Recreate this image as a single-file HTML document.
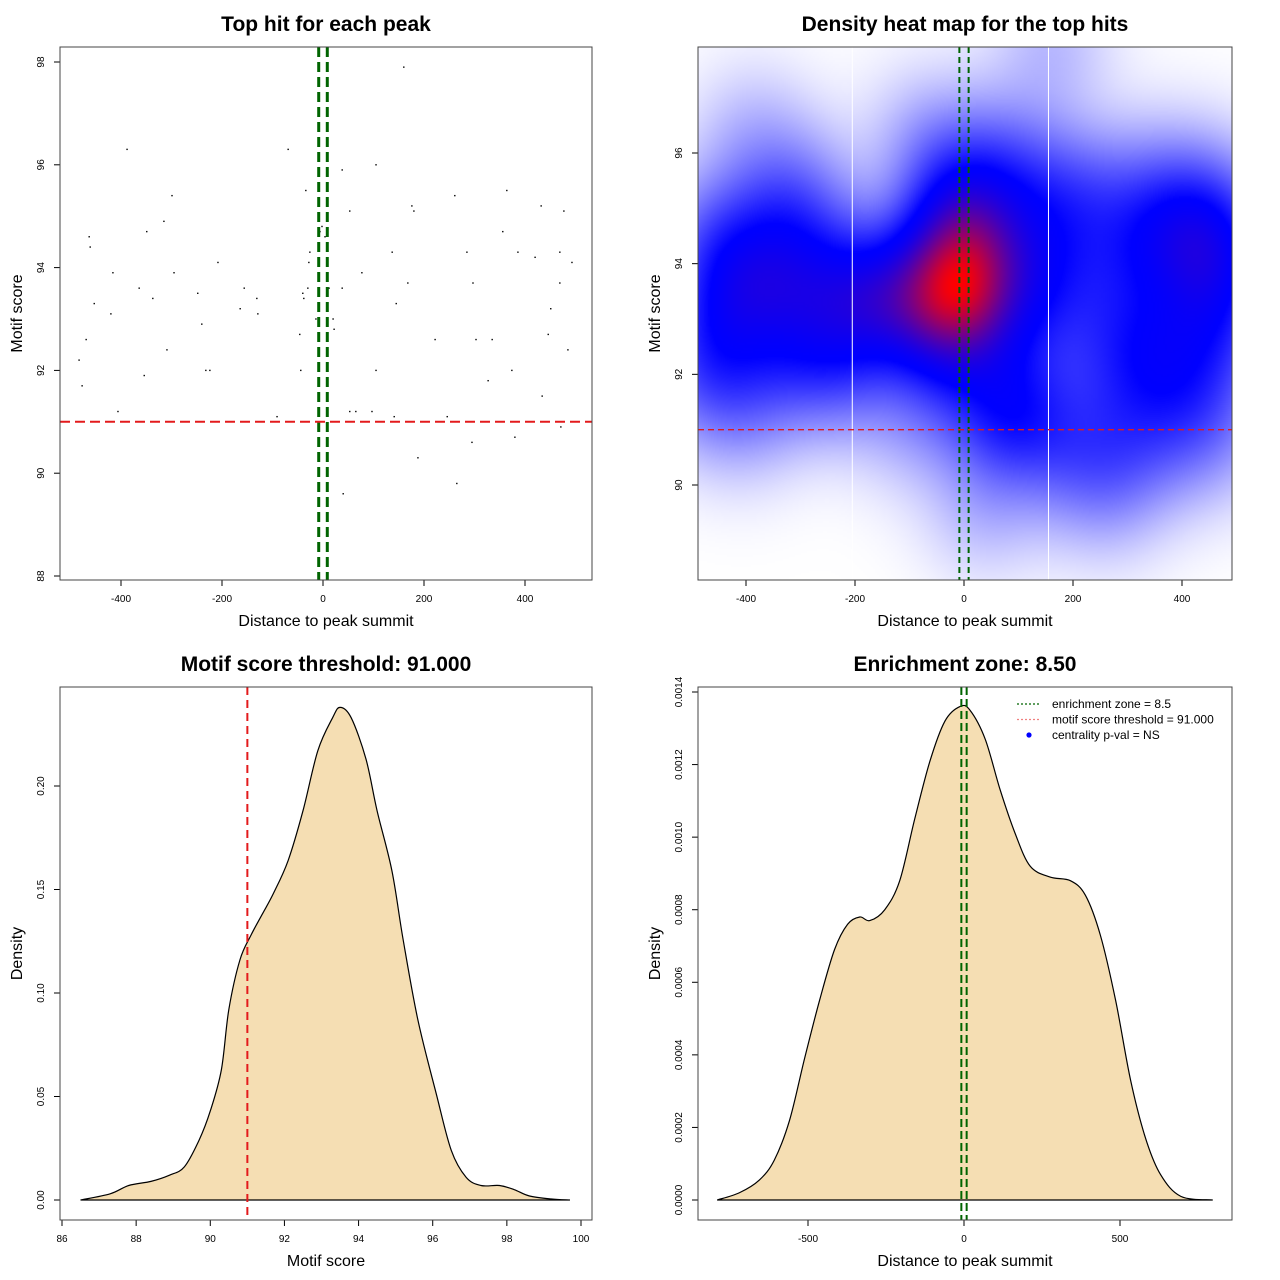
<!DOCTYPE html>
<html><head><meta charset="utf-8">
<style>
html,body{margin:0;padding:0;background:#fff;}
#wrap{position:relative;width:1280px;height:1280px;font-family:"Liberation Sans",sans-serif;}
svg{position:absolute;left:0;top:0;}
canvas{position:absolute;}
</style></head>
<body>
<div id="wrap">
<canvas id="heat" style="left:698px;top:47px;width:534px;height:533px" width="267" height="267"></canvas>
<svg id="svg" width="1280" height="1280" xmlns="http://www.w3.org/2000/svg"></svg>
</div>
<script>
// ---- data ----
const hitDistance = [-483,-477,-469,-463,-461,-453,-420,-416,-406,-388,-364,-354,-349,-337,-315,-309,-299,-295,-248,-240,-232,-224,-208,-164,-156,-131,-129,-91,-69,-46,-44,-40,-38,-34,-30,-28,-26,-14,-6,-2,4,12,20,22,38,38,40,53,53,65,77,97,105,105,137,141,145,160,168,176,180,188,222,246,261,265,285,295,297,303,327,335,356,364,374,380,386,420,432,434,446,451,469,469,471,477,485,493];
const hitScore = [92.2,91.7,92.6,94.6,94.4,93.3,93.1,93.9,91.2,96.3,93.6,91.9,94.7,93.4,94.9,92.4,95.4,93.9,93.5,92.9,92.0,92.0,94.1,93.2,93.6,93.4,93.1,91.1,96.3,92.7,92.0,93.5,93.4,95.5,93.6,94.1,94.3,93.0,94.7,94.8,94.6,93.6,93.0,92.8,95.9,93.6,89.6,91.2,95.1,91.2,93.9,91.2,92.0,96.0,94.3,91.1,93.3,97.9,93.7,95.2,95.1,90.3,92.6,91.1,95.4,89.8,94.3,90.6,93.7,92.6,91.8,92.6,94.7,95.5,92.0,90.7,94.3,94.2,95.2,91.5,92.7,93.2,94.3,93.7,90.9,95.1,92.4,94.1];
const scoreDensX = [86.5,87.3,87.8,88.4,88.9,89.3,89.7,90.0,90.3,90.5,90.8,91.1,91.4,91.7,92.1,92.5,92.9,93.3,93.5,93.8,94.2,94.5,94.9,95.2,95.6,96.1,96.5,96.9,97.3,97.8,98.2,98.6,99.2,99.7];
const scoreDensY = [0,0.003,0.007,0.009,0.012,0.016,0.029,0.043,0.063,0.092,0.116,0.128,0.138,0.148,0.164,0.188,0.217,0.233,0.238,0.233,0.213,0.188,0.159,0.126,0.087,0.051,0.024,0.011,0.007,0.007,0.005,0.002,0.0005,0];
const distDensX = [-791,-720,-656,-608,-559,-511,-463,-415,-373,-334,-302,-254,-206,-158,-109,-61,-13,19,68,116,164,212,276,341,389,437,486,534,582,630,695,797];
const distDensY = [0,0.00002,0.000055,0.00011,0.00022,0.00039,0.00055,0.00069,0.00076,0.00078,0.00077,0.0008,0.00088,0.00105,0.00121,0.00132,0.00136,0.00135,0.00127,0.00113,0.00101,0.00092,0.00089,0.00088,0.00084,0.00073,0.00055,0.00033,0.00017,0.00007,0.00001,0];
const threshold = 91.0;
const zone = 8.5;
const ticks1X = [-400,-200,0,200,400];
const ticks1Y = [88,90,92,94,96,98];
const ticks2Y = [90,92,94,96];
const ticks3X = [86,88,90,92,94,96,98,100];
const ticks3Y = [0,0.05,0.10,0.15,0.20];
const ticks3YLabels = ["0.00","0.05","0.10","0.15","0.20"];
const ticks4X = [-500,0,500];
const ticks4Y = [0,0.0002,0.0004,0.0006,0.0008,0.0010,0.0012,0.0014];
const ticks4YLabels = ["0.0000","0.0002","0.0004","0.0006","0.0008","0.0010","0.0012","0.0014"];

// ---- scales ----
const lin=(d0,d1,r0,r1)=>v=>r0+(v-d0)*(r1-r0)/(d1-d0);
const p1x=lin(0,400,323,525), p1y=lin(88,98,576,62);
const p2x=lin(0,400,964,1182), p2y=lin(90,96,485,153);
const p3x=lin(86,100,62,581), p3y=lin(0,0.2,1200,786);
const p4x=lin(0,500,964,1120), p4y=lin(0,0.0014,1200,692);

const svg=document.getElementById('svg');
const NS='http://www.w3.org/2000/svg';
function el(tag,attrs,parent){const e=document.createElementNS(NS,tag);for(const k in attrs)e.setAttribute(k,attrs[k]);(parent||svg).appendChild(e);return e;}
function txt(s,x,y,size,opts,parent){const t=el('text',Object.assign({x:x,y:y,'font-size':size,'text-anchor':'middle','font-family':'Liberation Sans, sans-serif',fill:'#000'},opts||{}),parent);t.textContent=s;return t;}
function smooth(pts){let d='M'+pts[0][0]+','+pts[0][1];
  for(let i=0;i<pts.length-1;i++){const p0=pts[Math.max(0,i-1)],p1=pts[i],p2=pts[i+1],p3=pts[Math.min(pts.length-1,i+2)];
    const c1x=p1[0]+(p2[0]-p0[0])/6,c1y=p1[1]+(p2[1]-p0[1])/6,c2x=p2[0]-(p3[0]-p1[0])/6,c2y=p2[1]-(p3[1]-p1[1])/6;
    d+=` C${c1x},${c1y} ${c2x},${c2y} ${p2[0]},${p2[1]}`;}
  return d;}

function panel(name,box,title,xlabel,ylabel,xt,xs,yt,ys,ylabels,xlabels){
  const g=el('g',{});
  
  
  const [x0,y0,x1,y1]=box;
  const t=txt(title,(x0+x1)/2,31+(y0-47),21,{'font-weight':'bold'},g);
  
  
  const xl=txt(xlabel,(x0+x1)/2,y1+46,16,{},g);
  
  
  const yl=txt(ylabel,0,0,16,{transform:`translate(${x0-38},${(y0+y1)/2}) rotate(-90)`},g);
  
  
  const xa=el('g',{},g);
  
  
  xt.forEach((v,i)=>{const px=xs(v);el('line',{x1:px,x2:px,y1:y1,y2:y1+6,stroke:'#000'},xa);txt(xlabels?xlabels[i]:String(v),px,y1+22,10,{},xa);});
  el('line',{x1:xs(xt[0]),x2:xs(xt[xt.length-1]),y1:y1,y2:y1,stroke:'#000'},xa);
  const ya=el('g',{},g);
  
  
  yt.forEach((v,i)=>{const py=ys(v);el('line',{x1:x0-6,x2:x0,y1:py,y2:py,stroke:'#000'},ya);txt(ylabels?ylabels[i]:String(v),0,0,10,{transform:`translate(${x0-16},${py}) rotate(-90)`},ya);});
  el('line',{x1:x0,x2:x0,y1:ys(yt[0]),y2:ys(yt[yt.length-1]),stroke:'#000'},ya);
  return g;
}

// Panel 1 scatter
const g1=panel('scatter-panel',[60,47,592,580],'Top hit for each peak','Distance to peak summit','Motif score',ticks1X,p1x,ticks1Y,p1y);
hitDistance.forEach((d,i)=>{const c=el('rect',{x:p1x(d)-0.7,y:p1y(hitScore[i])-0.7,width:1.4,height:1.4,fill:'#000'},g1);
  
  });
[-zone,zone].forEach(z=>{const l=el('line',{x1:p1x(z),x2:p1x(z),y1:47,y2:580,stroke:'#006400','stroke-width':3,'stroke-dasharray':'10,5'},g1);
  
  });
{const l=el('line',{x1:60,x2:592,y1:p1y(threshold),y2:p1y(threshold),stroke:'#e31a1c','stroke-width':2,'stroke-dasharray':'10,5'},g1);
  
  }
el('rect',{x:60,y:47,width:532,height:533,fill:'none',stroke:'#444'},g1);

// Panel 2 heatmap
(function(){
  const cv=document.getElementById('heat');const ctx=cv.getContext('2d');
  const W=cv.width,H=cv.height;const img=ctx.createImageData(W,H);
  const dens=new Float32Array(W*H);let mx=0;
  const bx=75,by=0.85;
  for(let j=0;j<H;j++){for(let i=0;i<W;i++){
    const px=698+(i+0.5)*534/W, py=47+(j+0.5)*533/H;
    const xv=(px-964)*400/218, yv=90+(485-py)*6/332;
    let s=0;for(let k=0;k<hitDistance.length;k++){const dx=(xv-hitDistance[k])/bx,dy=(yv-hitScore[k])/by;s+=Math.exp(-0.5*(dx*dx+dy*dy));}
    dens[j*W+i]=s;if(s>mx)mx=s;}}
  for(let n=0;n<W*H;n++){const t=dens[n]/mx;let r,g,b;
    if(t<0.45){const u=Math.pow(t/0.45,0.8);r=255*(1-u);g=255*(1-u);b=255;}
    else{const u=Math.pow((t-0.45)/0.55,1.6);r=255*u;g=0;b=255*(1-u);}
    img.data[n*4]=r;img.data[n*4+1]=g;img.data[n*4+2]=b;img.data[n*4+3]=255;}
  ctx.putImageData(img,0,0);
})();
const g2=panel('heatmap-panel',[698,47,1232,580],'Density heat map for the top hits','Distance to peak summit','Motif score',ticks1X,p2x,ticks2Y,p2y);
[-205,155].forEach(v=>{const l=el('line',{x1:p2x(v),x2:p2x(v),y1:47,y2:580,stroke:'#fff','stroke-width':1},g2);
  
  });
[-zone,zone].forEach(z=>{const l=el('line',{x1:p2x(z),x2:p2x(z),y1:47,y2:580,stroke:'#006400','stroke-width':2,'stroke-dasharray':'6,4'},g2);
  
  });
{const l=el('line',{x1:698,x2:1232,y1:p2y(threshold),y2:p2y(threshold),stroke:'#e31a1c','stroke-width':1.3,'stroke-dasharray':'6,4'},g2);
  
  }
el('rect',{x:698,y:47,width:534,height:533,fill:'none',stroke:'#444'},g2);

// Panel 3
const g3=panel('score-density-panel',[60,687,592,1220],'Motif score threshold: 91.000','Motif score','Density',ticks3X,p3x,ticks3Y,p3y,ticks3YLabels);
{const d=smooth(scoreDensX.map((v,i)=>[p3x(v),p3y(scoreDensY[i])]));
 const a=el('path',{d:d+' Z',fill:'#f5deb3',stroke:'#000','stroke-width':1.2},g3);
 
 
 const b=el('line',{x1:p3x(scoreDensX[0]),x2:p3x(scoreDensX[scoreDensX.length-1]),y1:p3y(0),y2:p3y(0),stroke:'#000'},g3);
 
 
 const l=el('line',{x1:p3x(threshold),x2:p3x(threshold),y1:687,y2:1220,stroke:'#e31a1c','stroke-width':2,'stroke-dasharray':'8,5'},g3);
 
 }
el('rect',{x:60,y:687,width:532,height:533,fill:'none',stroke:'#444'},g3);

// Panel 4
const g4=panel('distance-density-panel',[698,687,1232,1220],'Enrichment zone: 8.50','Distance to peak summit','Density',ticks4X,p4x,ticks4Y,p4y,ticks4YLabels);
{const d=smooth(distDensX.map((v,i)=>[p4x(v),p4y(distDensY[i])]));
 const a=el('path',{d:d+' Z',fill:'#f5deb3',stroke:'#000','stroke-width':1.2},g4);
 
 
 const b=el('line',{x1:p4x(distDensX[0]),x2:p4x(distDensX[distDensX.length-1]),y1:p4y(0),y2:p4y(0),stroke:'#000'},g4);
 
 
 [-zone,zone].forEach(z=>{const l=el('line',{x1:p4x(z),x2:p4x(z),y1:687,y2:1220,stroke:'#006400','stroke-width':2,'stroke-dasharray':'8,4'},g4);
  
  });}
el('rect',{x:698,y:687,width:534,height:533,fill:'none',stroke:'#444'},g4);
const lg=el('g',{},g4);


const legItems=[['enrichment zone = 8.5','#006400'],['motif score threshold = 91.000','#f08080'],['centrality p-val = NS','#0000ff']];
legItems.forEach((it,i)=>{const y=704+i*15.5;
  if(i<2) el('line',{x1:1017,x2:1041,y1:y,y2:y,stroke:it[1],'stroke-width':1.2,'stroke-dasharray':'2,2'},lg);
  else el('circle',{cx:1029,cy:y,r:2.6,fill:it[1]},lg);
  const t=txt(it[0],1052,y+4,12,{'text-anchor':'start'},lg);
  
  });
</script>
</body></html>
